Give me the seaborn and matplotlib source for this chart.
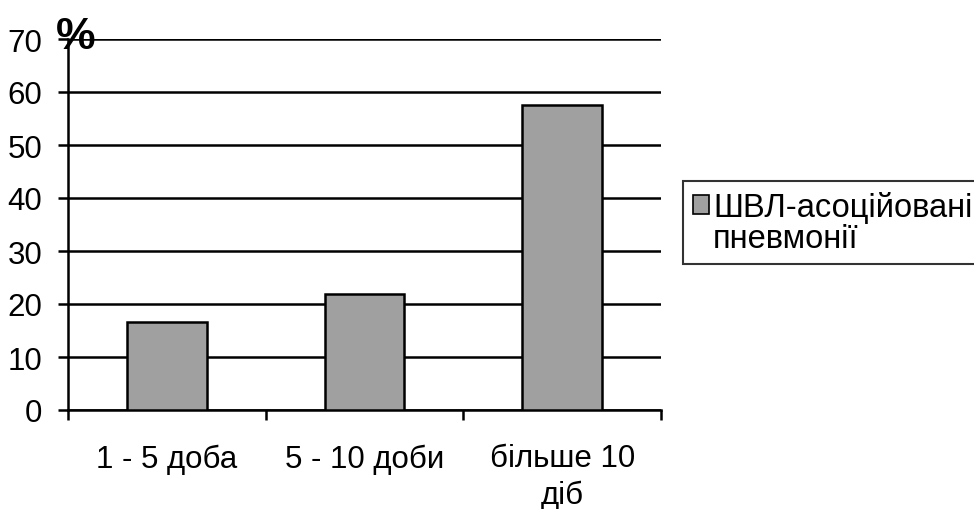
import matplotlib
matplotlib.use("Agg")
import matplotlib.pyplot as plt
from matplotlib.patches import Patch
import seaborn as sns

# Data
categories = ["1 - 5 доба", "5 - 10 доби", "більше 10\nдіб"]
values = [16.6, 21.9, 57.5]
series_label_lines = ["ШВЛ-асоційовані", "пневмонії"]
y_ticks = [0, 10, 20, 30, 40, 50, 60, 70]

sns.set_style("white")
plt.rcParams["font.family"] = ["Liberation Sans", "DejaVu Sans"]
plt.rcParams["text.color"] = "black"

W, H = 974, 510
FS = 22.5
fig = plt.figure(figsize=(W / 100, H / 100), dpi=100)
ax = fig.add_axes([68 / W, 99 / H, 593 / W, 371 / H])

sns.barplot(x=categories, y=values, color="#a0a0a0", width=0.404,
            edgecolor="black", linewidth=1.8, saturation=1, ax=ax, zorder=3)

ax.set_xlim(-0.5, 2.5)
ax.set_ylim(0, 70)
ax.set_yticks(y_ticks)
ax.set_xlabel("")
ax.set_ylabel("")

# horizontal gridlines
ax.yaxis.grid(True, color="black", linewidth=1.8)
ax.xaxis.grid(False)
ax.set_axisbelow(True)

for side in ["top", "right"]:
    ax.spines[side].set_visible(False)
for side in ["left", "bottom"]:
    ax.spines[side].set_color("black")
    ax.spines[side].set_linewidth(1.8)

# category boundary ticks on the x axis
ax.set_xticks([-0.5, 0.5, 1.5, 2.5], minor=True)
ax.tick_params(axis="x", which="minor", length=7.5, width=1.8,
               color="black", direction="out", bottom=True)
ax.tick_params(axis="x", which="major", length=0, pad=24,
               labelsize=FS, labelcolor="black")
ax.tick_params(axis="y", which="major", length=7.5, width=1.8,
               color="black", direction="out", left=True, pad=11,
               labelsize=FS, labelcolor="black")
for lab in ax.get_xticklabels():
    lab.set_linespacing(1.25)

# unit marker above the y axis
fig.text(76 / W, 1 - 49 / H, "%", fontsize=32, fontweight="bold",
         ha="center", va="baseline", color="black")

# legend: swatch beside the first line only; right edge runs past the border
bar_patch = ax.patches[0]
blank = Patch(visible=False)
leg = fig.legend(handles=[bar_patch, blank], labels=series_label_lines,
                 loc="upper left", bbox_to_anchor=(683 / W, 1 - 182 / H),
                 bbox_transform=fig.transFigure, fontsize=23.5,
                 labelcolor="black",
                 frameon=True, fancybox=False, borderaxespad=0,
                 borderpad=0.3, handlelength=0.5, handleheight=0.5,
                 handletextpad=0.12, labelspacing=0.02)
leg.get_frame().set_edgecolor("black")
leg.get_frame().set_linewidth(1.5)
leg.legend_handles[0].set_linewidth(1.2)

fig.savefig("out.png", dpi=100)
